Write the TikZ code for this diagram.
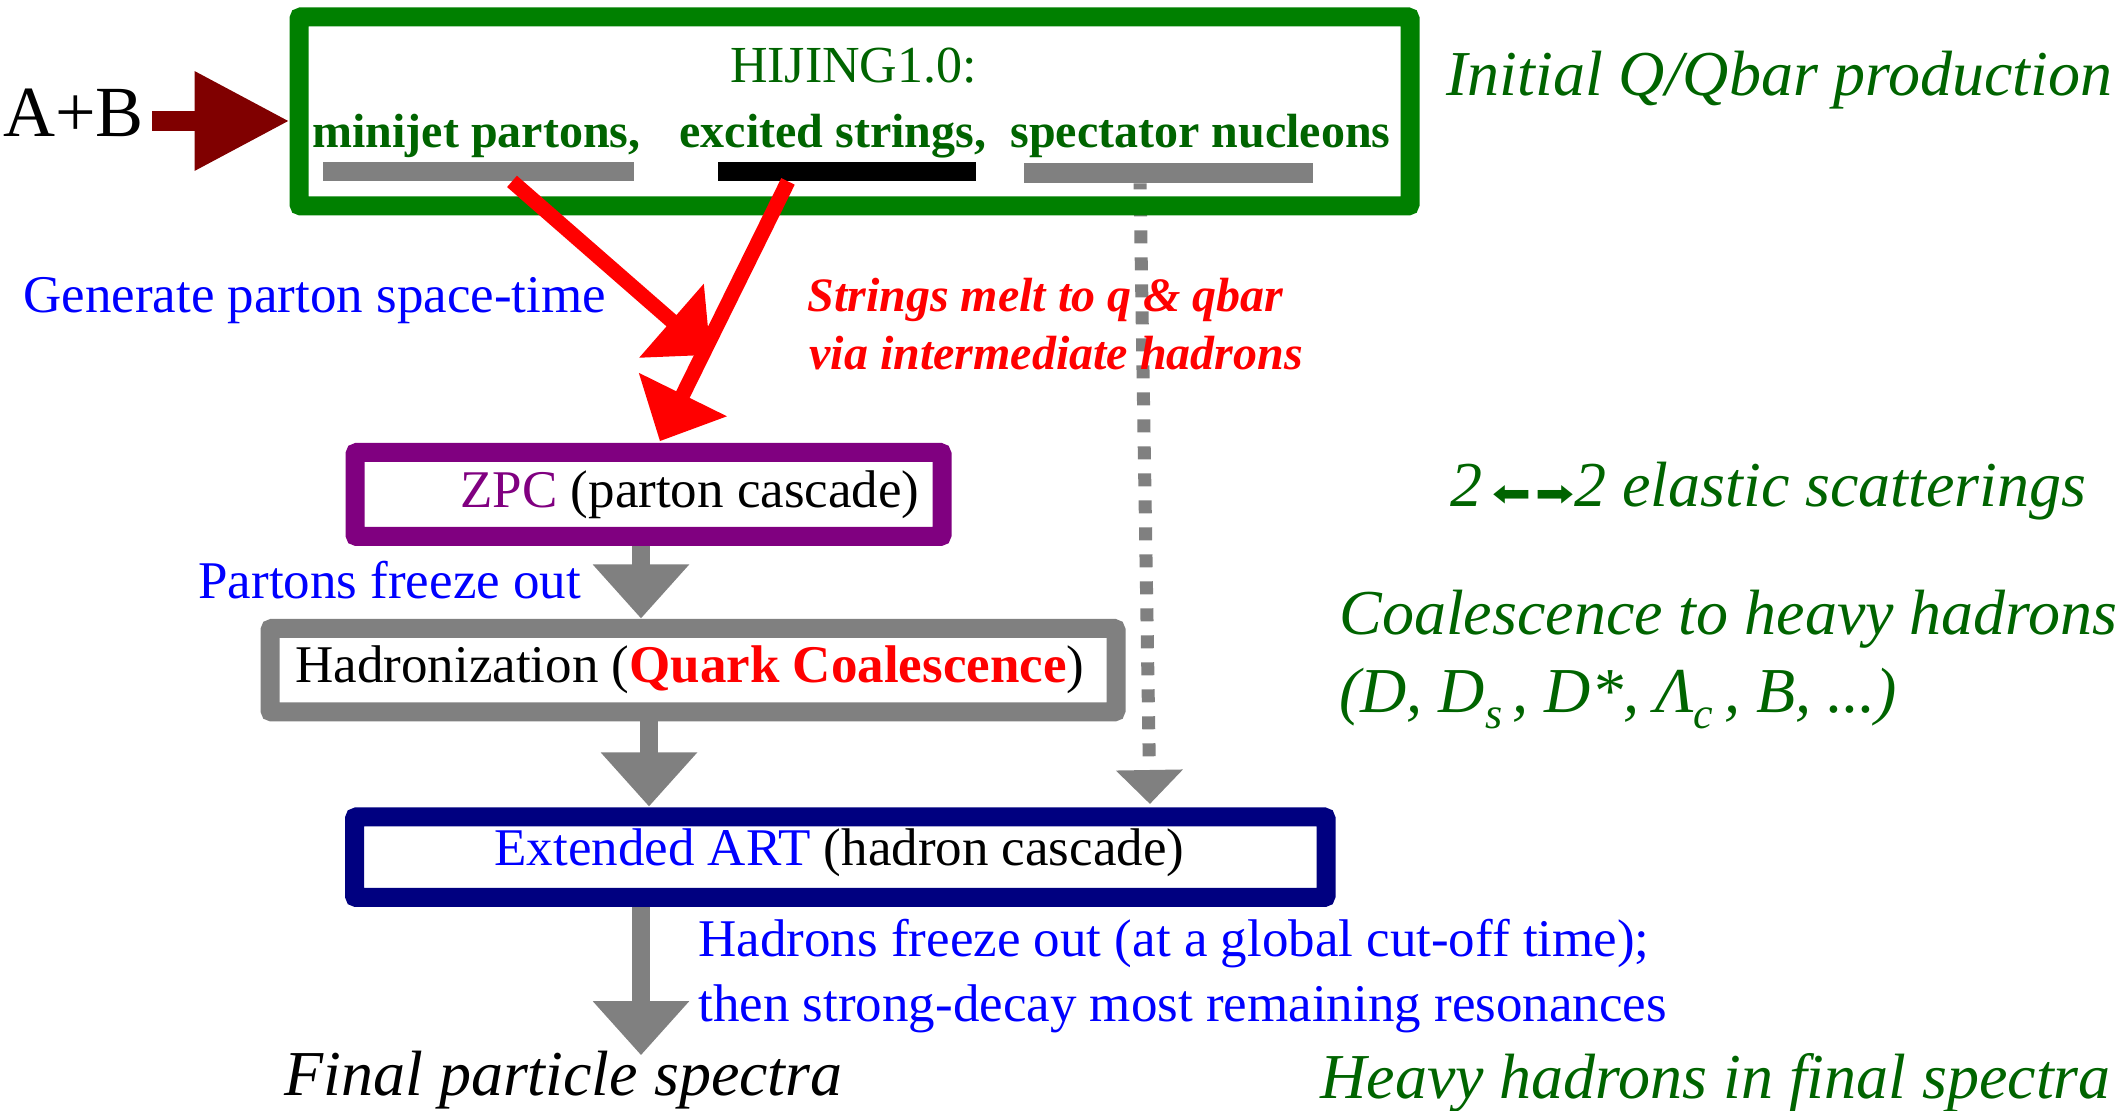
\documentclass[tikz,border=0pt]{standalone}
\usepackage{fontspec}
\usepackage{graphicx}
\setmainfont{Liberation Serif}
\newfontfamily\arrowfont{DejaVu Sans}
\usetikzlibrary{arrows.meta,positioning}
\pgfdeclarelayer{background}
\pgfsetlayers{background,main}
\definecolor{boxgreen}{RGB}{0,128,0}
\definecolor{txtgreen}{RGB}{0,100,0}
\definecolor{zpcpurple}{RGB}{128,0,128}
\definecolor{artnavy}{RGB}{0,0,128}
\definecolor{abred}{RGB}{128,0,0}
\newcommand{\lowsub}[1]{\raisebox{-0.25em}{\fontsize{22}{22}\selectfont #1}}
\newcommand{\heavyarrows}{{\arrowfont\upshape\hspace{5pt}%
    \reflectbox{\resizebox*{19.5pt}{10.5pt}{➡}}\hspace{2pt}%
    \resizebox*{19.5pt}{10.5pt}{➡}}}
\tikzset{stagebox/.style={%
        draw,
        line width=9.5pt,
        rounded corners=1pt,
        inner sep=0pt}}
\tikzset{barstrip/.style={inner sep=0pt,minimum height=9.5pt}}
\tikzset{lbl/.style={inner sep=0pt,anchor=base west,font=\fontsize{26.5}{30}\selectfont}}
\tikzset{sidenote/.style={lbl,text=txtgreen,font=\fontsize{32}{36}\selectfont\itshape}}
\tikzset{flow/.style={draw=gray,line width=9pt,-{Triangle[width=46.5pt,length=27pt]}}}
\tikzset{melt/.style={draw=red,line width=7.5pt,-{Triangle[width=47.5pt,length=26pt]}}}
\tikzset{spectline/.style={draw=gray,line width=6.5pt,dash pattern=on 6.5pt off 7pt,dash phase=3.5pt,-{Triangle[width=32.5pt,length=17pt]}}}
\tikzset{entryarrow/.style={draw=abred,line width=10pt,-{Triangle[width=47pt,length=47.5pt]}}}

\begin{document}
\begin{tikzpicture}[x=0.5pt,y=-0.5pt]
  \useasboundingbox (0,0) rectangle (2116,1111);
  % boxes
  \node [stagebox,draw=boxgreen,minimum width=555.5pt,minimum height=94.5pt] (hijing) at (854.5,111.5) {};
  \node [stagebox,draw=zpcpurple,minimum width=293.5pt,minimum height=42pt] (zpc) at (648.5,494.5) {};
  \node [stagebox,draw=gray,minimum width=423pt,minimum height=41.75pt] (hadr) at (693,670.25) {};
  \node [stagebox,draw=artnavy,minimum width=485.75pt,minimum height=40.25pt] (art) at (840.25,857.25) {};
  \node [barstrip,fill=gray,minimum width=155.5pt] (partbar) at (478.5,171.5) {};
  \node [barstrip,fill=black,minimum width=129pt] (strbar) at (847,171.5) {};
  \node [barstrip,fill=gray,minimum width=144.5pt,minimum height=10pt] (specbar) at (1168.5,173) {};
  % texts
  \node [lbl,font=\fontsize{36}{40}\selectfont] (ab) at (3,137) {A+B};
  \node [lbl,anchor=base,text=txtgreen,font=\fontsize{26}{30}\selectfont] (hijtitle) at (853.5,83) {HIJING1.0:};
  \node [lbl,text=txtgreen,font=\fontsize{24}{28}\selectfont\bfseries] (minijet) at (312,148) {minijet partons,};
  \node [lbl,text=txtgreen,font=\fontsize{24}{28}\selectfont\bfseries] (excited) at (679,148) {excited strings,};
  \node [lbl,text=txtgreen,font=\fontsize{24}{28}\selectfont\bfseries] (spect) at (1010,148) {spectator nucleons};
  \node [lbl,text=blue] (genpart) at (23,313) {Generate parton space-time};
  \node [lbl,text=red,font=\fontsize{24}{28}\selectfont\bfseries\itshape] (meltone) at (807,312) {Strings melt to q \& qbar};
  \node [lbl,text=red,font=\fontsize{24}{28}\selectfont\bfseries\itshape] (melttwo) at (809,370) {via intermediate hadrons};
  \node [lbl] (zpctext) at (460,508) {\textcolor{zpcpurple}{ZPC} (parton cascade)};
  \node [lbl,text=blue] (pfreeze) at (198,599) {Partons freeze out};
  \node [lbl] (hadrtext) at (295,683) {Hadronization (\textcolor{red}{\bfseries Quark Coalescence})};
  \node [lbl] (arttext) at (494,866) {\textcolor{blue}{Extended ART} (hadron cascade)};
  \node [lbl,text=blue] (hfreezeone) at (698,957) {Hadrons freeze out (at a global cut-off time);};
  \node [lbl,text=blue] (hfreezetwo) at (698,1022) {then strong-decay most remaining resonances};
  \node [lbl,font=\fontsize{32}{36}\selectfont\itshape] (final) at (284,1095) {Final particle spectra};
  \node [sidenote] (initq) at (1446,95.5) {Initial Q/Qbar production};
  \node [sidenote] (elastic) at (1450,507) {2\heavyarrows2 elastic scatterings};
  \node [sidenote] (coalone) at (1339,635) {Coalescence to heavy hadrons};
  \node [sidenote] (coaltwo) at (1339,712.5) {(D, D\lowsub{s}\,, D*, Λ\lowsub{c}\,, B, ...)};
  \node [sidenote] (heavy) at (1320,1098) {Heavy hadrons in final spectra};
  % connectors
  \coordinate (entrylevel) at (0,121);
  \coordinate (axis) at (641,0);
  \coordinate (axistwo) at (649,0);
  \coordinate (meltend) at (659,0);
  \coordinate (dashtop) at (1140,0);
  \coordinate (dashbot) at (1150,0);
  \coordinate (meet) at (705,350);
  \draw [entryarrow,shorten <=4pt] (ab.east |- entrylevel) -- (hijing.west |- entrylevel);
  \draw [melt,shorten >=-3.75pt] ([xshift=16.75pt]partbar.south) -- (meet);
  \draw [melt,shorten >=1pt] ([xshift=-29.5pt]strbar.south) -- (zpc.north -| meltend);
  \begin{pgfonlayer}{background}
    \draw [spectline,shorten >=1.75pt] (specbar.south -| dashtop) -- (art.north -| dashbot);
  \end{pgfonlayer}
  \draw [flow,shorten >=0.25pt] (zpc.south -| axis) -- (hadr.north -| axis);
  \draw [flow,shorten >=0.5pt] (hadr.south -| axistwo) -- (art.north -| axistwo);
  \draw [flow,shorten >=-2.5pt] (art.south -| axis) -- (final.north -| axis);
\end{tikzpicture}
\end{document}
